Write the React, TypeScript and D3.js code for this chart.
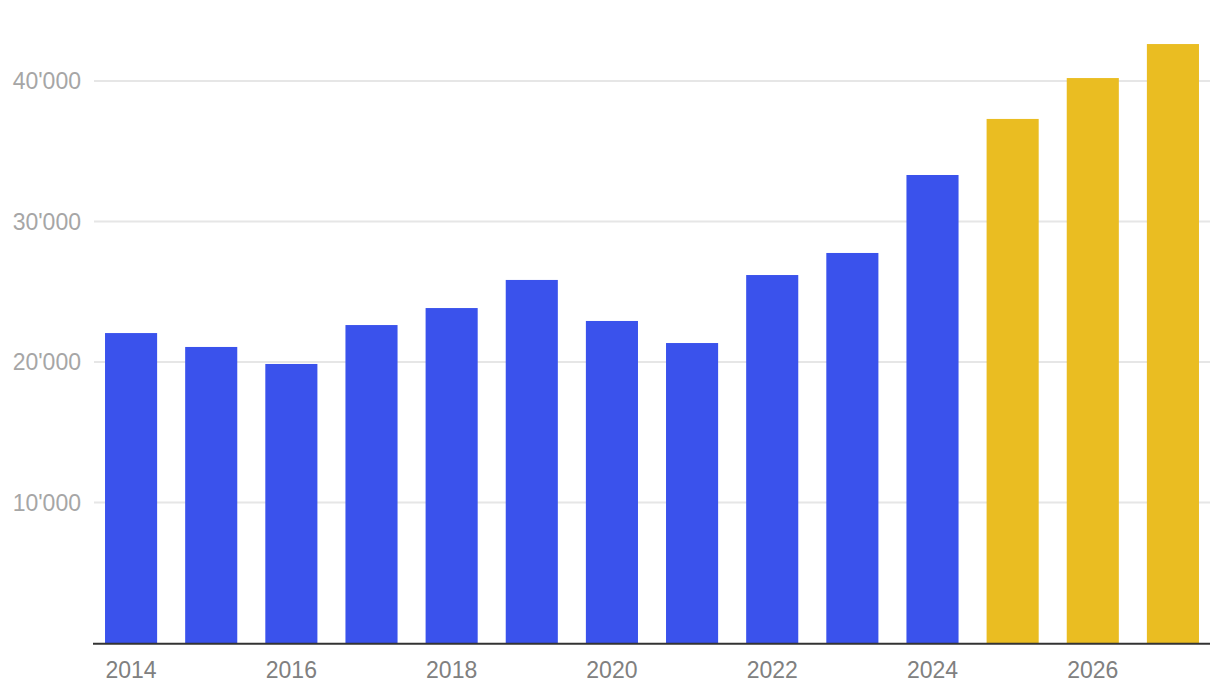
import React from "react";
import * as d3 from "d3";

const years = [2014, 2015, 2016, 2017, 2018, 2019, 2020, 2021, 2022, 2023, 2024, 2025, 2026, 2027];
const values = [22060, 21070, 19860, 22630, 23840, 25840, 22920, 21350, 26190, 27760, 33310, 37300, 40210, 42630];
const forecastFrom = 2025;
const yTicks = [10000, 20000, 30000, 40000];
const xTickYears = [2014, 2016, 2018, 2020, 2022, 2024, 2026];

const W = 1220;
const H = 696;

export default function App() {
  const x = d3
    .scaleBand<number>()
    .domain(years)
    .range([91, 1213])
    .paddingInner(0.35)
    .paddingOuter(0.175);
  const y = d3.scaleLinear().domain([0, 40000]).range([643, 81]);
  const fmt = (v: number) => d3.format(",")(v).replace(/,/g, "'");
  const font = "'Liberation Sans', Arial, Helvetica, sans-serif";

  return (
    <svg
      width={W}
      height={H}
      style={{ position: "absolute", left: 0, top: 0, display: "block", background: "#fff" }}
    >
      {yTicks.map((t) => (
        <g key={t}>
          <line x1={94} x2={1210} y1={y(t)} y2={y(t)} stroke="#e6e6e6" strokeWidth={2} />
          <text
            x={81}
            y={y(t)}
            dy="0.35em"
            textAnchor="end"
            fontFamily={font}
            fontSize={23}
            fill="#a6a6a6"
          >
            {fmt(t)}
          </text>
        </g>
      ))}
      {years.map((yr, i) => (
        <rect
          key={yr}
          x={x(yr)}
          y={y(values[i])}
          width={x.bandwidth()}
          height={y(0) - y(values[i])}
          fill={yr >= forecastFrom ? "#eabd22" : "#3a52ec"}
        />
      ))}
      <line x1={93} x2={1210} y1={643.7} y2={643.7} stroke="#333" strokeWidth={2} />
      {xTickYears.map((yr) => (
        <text
          key={yr}
          x={(x(yr) as number) + x.bandwidth() / 2}
          y={678}
          textAnchor="middle"
          fontFamily={font}
          fontSize={23}
          fill="#808080"
        >
          {yr}
        </text>
      ))}
    </svg>
  );
}
